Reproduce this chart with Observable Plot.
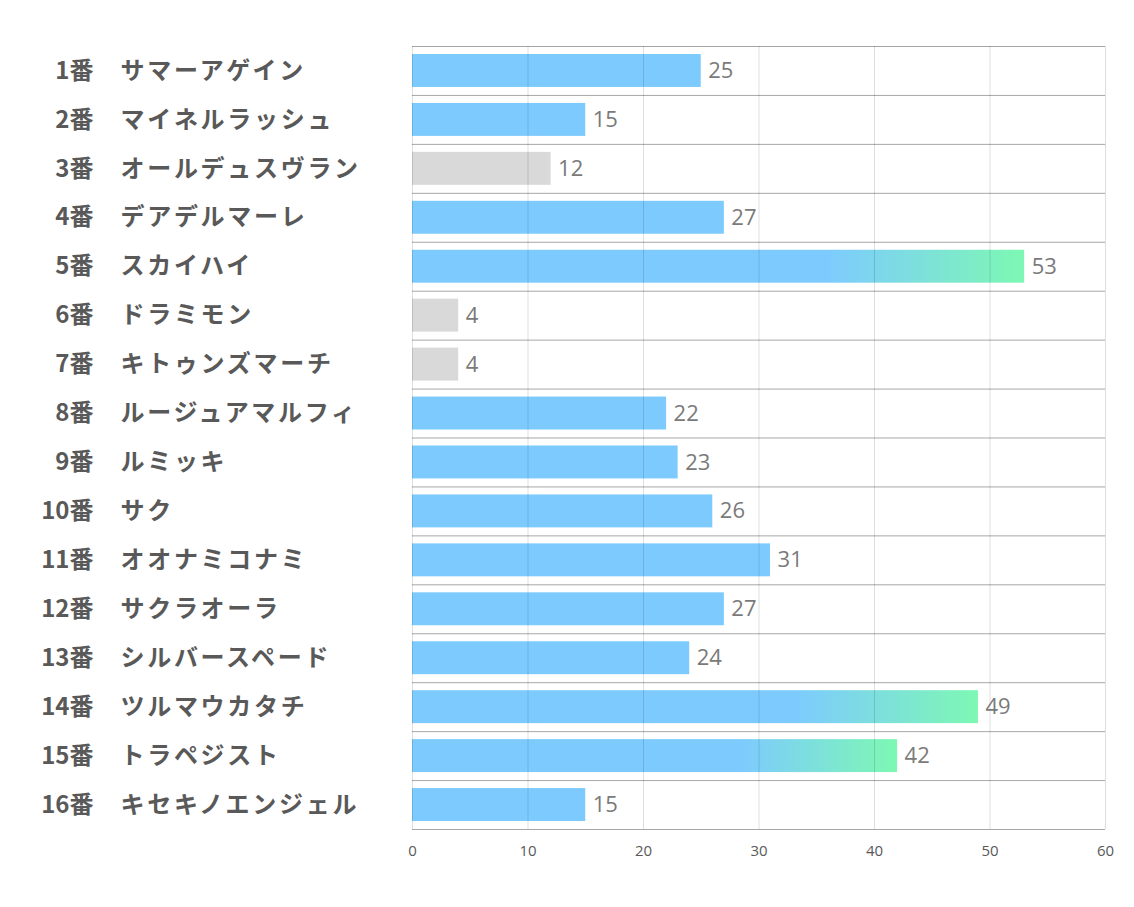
<!DOCTYPE html>
<html><head><meta charset="utf-8">
<script src="https://cdn.jsdelivr.net/npm/d3@7"></script>
<script src="https://cdn.jsdelivr.net/npm/@observablehq/plot@0.6"></script>
<style>
body{margin:0;background:#fff}
.names text{letter-spacing:2.7px}
</style></head><body><div id="chart"></div>
<script>
const numbers = ["1番","2番","3番","4番","5番","6番","7番","8番","9番","10番","11番","12番","13番","14番","15番","16番"];
const horses = ["サマーアゲイン","マイネルラッシュ","オールデュスヴラン","デアデルマーレ","スカイハイ","ドラミモン","キトゥンズマーチ","ルージュアマルフィ","ルミッキ","サク","オオナミコナミ","サクラオーラ","シルバースペード","ツルマウカタチ","トラペジスト","キセキノエンジェル"];
const votes = [25,15,12,27,53,4,4,22,23,26,31,27,24,49,42,15];
const groups = ["normal","normal","low","normal","top","low","low","normal","normal","normal","normal","normal","normal","top","top","normal"];
const xTicks = [0,10,20,30,40,50,60];

const data = numbers.map((n,i)=>({key:n, name:horses[i], value:votes[i], group:groups[i]}));

const W = 1134, H = 907, mT = 46, mB = 78, mL = 412, mR = 29;
const band = (H - mT - mB) / numbers.length;

const defs = () => {
  const d = d3.create("svg:defs");
  const g = d.append("linearGradient").attr("id","topGrad").attr("x1","0").attr("x2","1").attr("y1","0").attr("y2","0");
  g.append("stop").attr("offset","0").attr("stop-color","#7DCBFE");
  g.append("stop").attr("offset","0.68").attr("stop-color","#7DCBFE");
  g.append("stop").attr("offset","1").attr("stop-color","#7DF8B3");
  return d.node();
};

const chart = Plot.plot({
  width: W, height: H,
  marginTop: mT, marginBottom: mB, marginLeft: mL, marginRight: mR,
  style: {fontFamily: "'Noto Sans CJK JP', 'Open Sans', sans-serif", background: "#fff"},
  x: {domain: [xTicks[0], xTicks[xTicks.length-1]], axis: null, label: null},
  y: {domain: numbers, padding: 0, round: false, axis: null},
  marks: [
    defs,
    Plot.barX(data.filter(d=>d.group==="normal"), {x:"value", y:"key", fill:"#7DCBFE", insetTop:8, insetBottom:8}),
    Plot.barX(data.filter(d=>d.group==="low"), {x:"value", y:"key", fill:"#D9D9D9", insetTop:8, insetBottom:8}),
    Plot.barX(data.filter(d=>d.group==="top"), {x:"value", y:"key", fill:"url(#topGrad)", insetTop:8, insetBottom:8}),
    Plot.gridX(xTicks, {stroke:"#000", strokeOpacity:0.13}),
    Plot.ruleY(data, {y:"key", dy:-band/2, stroke:"#000", strokeOpacity:0.35}),
    Plot.ruleY([data[data.length-1]], {y:"key", dy:band/2, stroke:"#000", strokeOpacity:0.35}),
    Plot.axisX(xTicks, {tickSize:0, tickPadding:16, fontSize:15, color:"#595959", label:null, fontFamily:"'Open Sans', sans-serif"}),
    Plot.text(data, {x:"value", y:"key", text:d=>String(d.value), dx:7, textAnchor:"start", fontSize:22, fill:"#7a7a7a", fontFamily:"'Open Sans', sans-serif"}),
    Plot.text(data, {y:"key", text:"key", frameAnchor:"left", dx:-319, textAnchor:"end", fontSize:24, fontWeight:"bold", fill:"#595959"}),
    Plot.text(data, {y:"key", text:"name", frameAnchor:"left", dx:-292, textAnchor:"start", fontSize:24, fontWeight:"bold", fill:"#595959", className:"names"})
  ]
});
document.getElementById("chart").appendChild(chart);
</script></body></html>
